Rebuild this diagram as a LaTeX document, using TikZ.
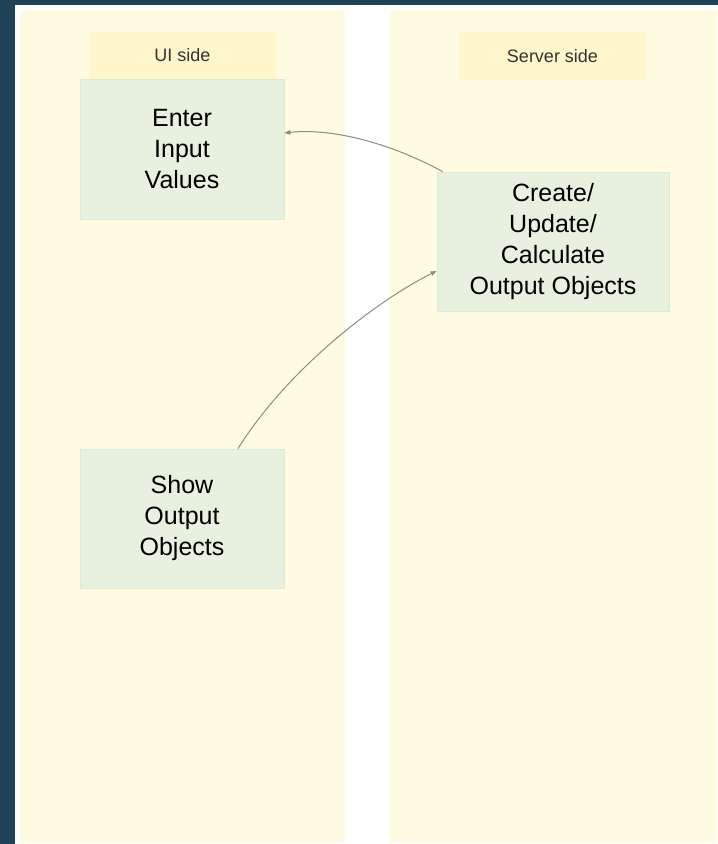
\documentclass[tikz,border=0pt]{standalone}
\usepackage{fontspec}
\setmainfont{Liberation Sans}
\usetikzlibrary{arrows.meta}
\definecolor{bgdark}{HTML}{1F4257}
\definecolor{lanecol}{HTML}{FFFAE2}
\definecolor{hdrcol}{HTML}{FFF6CC}
\definecolor{boxcol}{HTML}{E8F0E0}
\definecolor{boxline}{HTML}{DDE9D3}
\definecolor{arrcol}{HTML}{8E8C7C}
\definecolor{hdrtext}{HTML}{333333}
\begin{document}
\begin{tikzpicture}[x=1pt,y=-1pt,
  lanebox/.style={fill=lanecol,draw=none},
  hdrbox/.style={fill=hdrcol,draw=none,inner sep=0pt,text=hdrtext,
    font=\fontsize{18}{22}\selectfont},
  stepbox/.style={fill=boxcol,draw=boxline,line width=0.8pt,inner sep=0pt,
    align=center,font=\fontsize{25}{31}\selectfont},
  conn/.style={draw=arrcol,line width=1pt,-{Triangle[length=6pt,width=4.5pt]}}]
\useasboundingbox (0,0) rectangle (718,844);
\fill[bgdark] (0,0) rectangle (718,844);
\fill[white] (15,5) rectangle (718,844);
\fill[lanebox] (20,10) rectangle (345,843);
\fill[lanebox] (390,10) rectangle (717,843);
\node[hdrbox,minimum width=187pt,minimum height=47pt] (hui) at (182.5,55.5) {UI side};
\node[hdrbox,minimum width=187pt,minimum height=48pt] (hsrv) at (552.5,56) {Server side};
\node[stepbox,minimum width=204pt,minimum height=140pt] (en) at (182,149) {Enter\\Input\\Values};
\node[stepbox,minimum width=232pt,minimum height=139pt] (cr) at (553,241.5) {Create/\\Update/\\Calculate\\Output Objects};
\node[stepbox,minimum width=204pt,minimum height=139pt] (sh) at (182,518.5) {Show\\Output\\Objects};
\draw[conn] ([xshift=6pt]cr.north west) .. controls +(-55,-30) and +(45,-5) .. ([yshift=16pt]en.east);
\draw[conn] ([xshift=56pt]sh.north) .. controls +(50,-80) and +(-60,30) .. ([yshift=-29.5pt]cr.west);
\end{tikzpicture}
\end{document}
